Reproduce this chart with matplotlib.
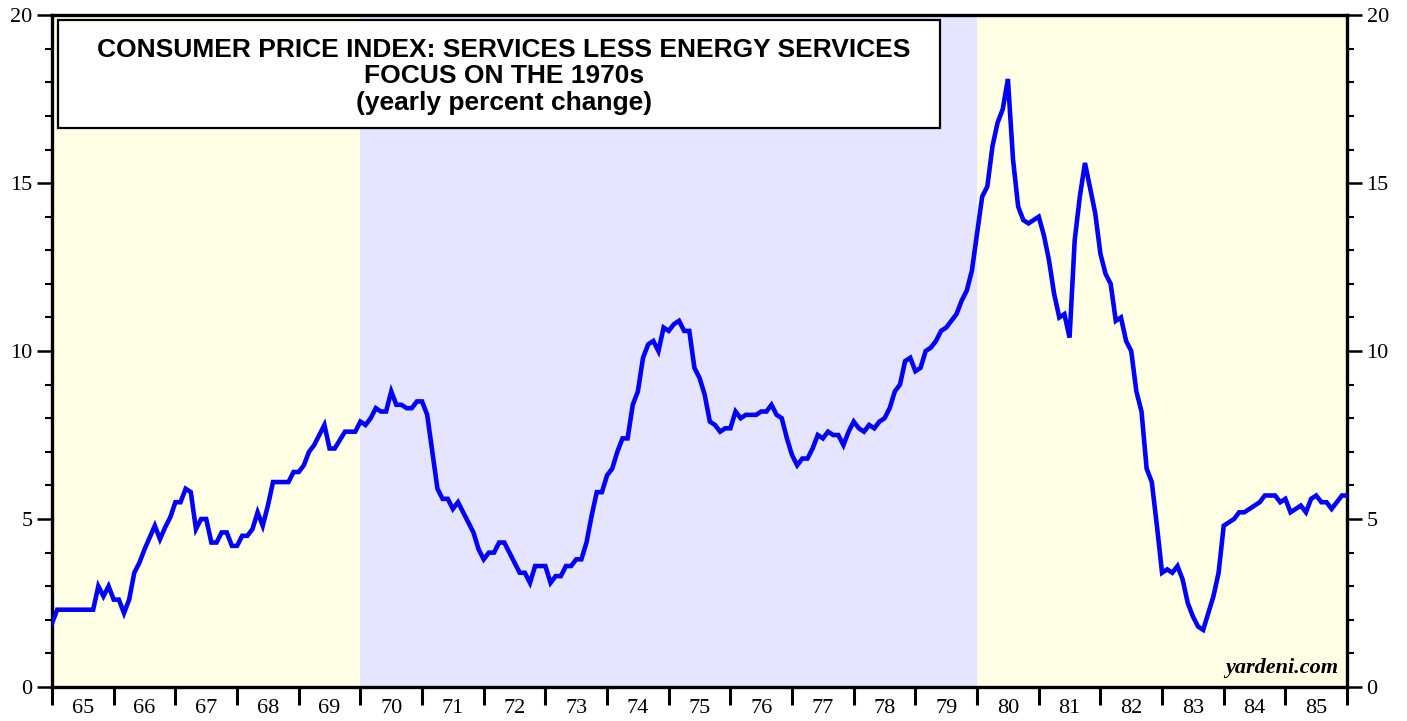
import numpy as np
import matplotlib
matplotlib.use("Agg")
import matplotlib.pyplot as plt
from matplotlib.ticker import MultipleLocator, FixedLocator, NullFormatter

# =====================================================
# DATA  (monthly, yearly percent change, Jan 1965 onwards)
# =====================================================

start_year = 1965

cpi_services = [
    # 1965
    1.9, 2.3, 2.3, 2.3, 2.3, 2.3, 2.3, 2.3, 2.3, 3.0, 2.7, 3.0,
    # 1966
    2.6, 2.6, 2.2, 2.6, 3.4, 3.7, 4.1, 4.45, 4.8, 4.4, 4.75, 5.05,
    # 1967
    5.5, 5.5, 5.9, 5.8, 4.7, 5.0, 5.0, 4.3, 4.3, 4.6, 4.6, 4.2,
    # 1968
    4.2, 4.5, 4.5, 4.7, 5.2, 4.8, 5.4, 6.1, 6.1, 6.1, 6.1, 6.4,
    # 1969
    6.4, 6.6, 7.0, 7.2, 7.5, 7.8, 7.1, 7.1, 7.35, 7.6, 7.6, 7.6,
    # 1970
    7.9, 7.8, 8.0, 8.3, 8.2, 8.2, 8.8, 8.4, 8.4, 8.3, 8.3, 8.5,
    # 1971
    8.5, 8.1, 7.0, 5.9, 5.6, 5.6, 5.3, 5.5, 5.2, 4.9, 4.6, 4.1,
    # 1972
    3.8, 4.0, 4.0, 4.3, 4.3, 4.0, 3.7, 3.4, 3.4, 3.1, 3.6, 3.6,
    # 1973
    3.6, 3.1, 3.3, 3.3, 3.6, 3.6, 3.8, 3.8, 4.3, 5.1, 5.8, 5.8,
    # 1974
    6.3, 6.5, 7.0, 7.4, 7.4, 8.4, 8.8, 9.8, 10.2, 10.3, 10.0, 10.7,
    # 1975
    10.6, 10.8, 10.9, 10.6, 10.6, 9.5, 9.2, 8.7, 7.9, 7.8, 7.6, 7.7,
    # 1976
    7.7, 8.2, 8.0, 8.1, 8.1, 8.1, 8.2, 8.2, 8.4, 8.1, 8.0, 7.4,
    # 1977
    6.9, 6.6, 6.8, 6.8, 7.1, 7.5, 7.4, 7.6, 7.5, 7.5, 7.2, 7.6,
    # 1978
    7.9, 7.7, 7.6, 7.8, 7.7, 7.9, 8.0, 8.3, 8.8, 9.0, 9.7, 9.8,
    # 1979
    9.4, 9.5, 10.0, 10.1, 10.3, 10.6, 10.7, 10.9, 11.1, 11.5, 11.8, 12.4,
    # 1980
    13.5, 14.6, 14.9, 16.1, 16.8, 17.2, 18.1, 15.7, 14.3, 13.9, 13.8, 13.9,
    # 1981
    14.0, 13.45, 12.7, 11.7, 11.0, 11.1, 10.4, 13.3, 14.6, 15.6, 14.85, 14.1,
    # 1982
    12.9, 12.3, 12.0, 10.9, 11.0, 10.3, 10.0, 8.8, 8.2, 6.5, 6.1, 4.8,
    # 1983
    3.4, 3.5, 3.4, 3.6, 3.2, 2.5, 2.1, 1.8, 1.7, 2.2, 2.7, 3.4,
    # 1984
    4.8, 4.9, 5.0, 5.2, 5.2, 5.3, 5.4, 5.5, 5.7, 5.7, 5.7, 5.5,
    # 1985
    5.6, 5.2, 5.3, 5.4, 5.2, 5.6, 5.7, 5.5, 5.5, 5.3, 5.5, 5.7,
    # 1986
    5.7,
]

# shaded periods: (start, end, colour)
periods = [
    (1965, 1970, "#FFFFE5"),
    (1970, 1980, "#E5E5FF"),
    (1980, 1986, "#FFFFE5"),
]

year_labels = ["65", "66", "67", "68", "69", "70", "71", "72", "73", "74",
               "75", "76", "77", "78", "79", "80", "81", "82", "83", "84", "85"]

title_lines = "CONSUMER PRICE INDEX: SERVICES LESS ENERGY SERVICES\nFOCUS ON THE 1970s\n(yearly percent change)"

# =====================================================
# FIGURE
# =====================================================

x = start_year + np.arange(len(cpi_services)) / 12.0

fig = plt.figure(figsize=(14.07, 7.21), dpi=100)
ax = fig.add_axes([0.037, 0.0472, 0.9204, 0.9318])

for a, b, c in periods:
    ax.axvspan(a, b, color=c, lw=0, zorder=0)

ax.plot(x, cpi_services, color="#0000FF", lw=3.3, zorder=3,
        solid_joinstyle="miter")

ax.set_xlim(1965, 1986)
ax.set_ylim(0, 20)

# frame
for s in ax.spines.values():
    s.set_linewidth(2.4)
    s.set_color("black")

serif = "Liberation Serif"

# y axis both sides
ax.yaxis.set_major_locator(MultipleLocator(5))
ax.yaxis.set_minor_locator(MultipleLocator(1))
ax.tick_params(axis="y", which="major", direction="out", length=11, width=1.8,
               left=True, right=True, labelleft=True, labelright=True,
               labelsize=16, pad=3)
ax.tick_params(axis="y", which="minor", direction="out", length=5, width=1.5,
               left=True, right=True)
for lab in ax.get_yticklabels():
    lab.set_fontfamily(serif)

# x axis: ticks at year boundaries, labels at mid year
years = np.arange(1965, 1987)
ax.xaxis.set_major_locator(FixedLocator(years))
ax.xaxis.set_major_formatter(NullFormatter())
ax.xaxis.set_minor_locator(FixedLocator(years[:-1] + 0.5))
ax.set_xticklabels(year_labels, minor=True)
ax.tick_params(axis="x", which="major", direction="out", length=13, width=2.2)
ax.tick_params(axis="x", which="minor", length=0, labelsize=16, pad=9)
for lab in ax.get_xticklabels(minor=True):
    lab.set_fontfamily(serif)

# title box
ax.text(0.349, 0.909, title_lines, transform=ax.transAxes,
        ha="center", va="center", fontsize=19, fontweight="bold",
        family="Liberation Sans", linespacing=1.12, zorder=5)
box = plt.Rectangle((0.0045, 0.832), 0.681, 0.161, transform=ax.transAxes,
                    facecolor="white", edgecolor="black", lw=1.6, zorder=4)
ax.add_patch(box)

# source
ax.text(0.9935, 0.014, "yardeni.com", transform=ax.transAxes,
        ha="right", va="bottom", fontsize=16, fontweight="bold",
        fontstyle="italic", family=serif, zorder=5)

fig.savefig("out.png", dpi=100)
